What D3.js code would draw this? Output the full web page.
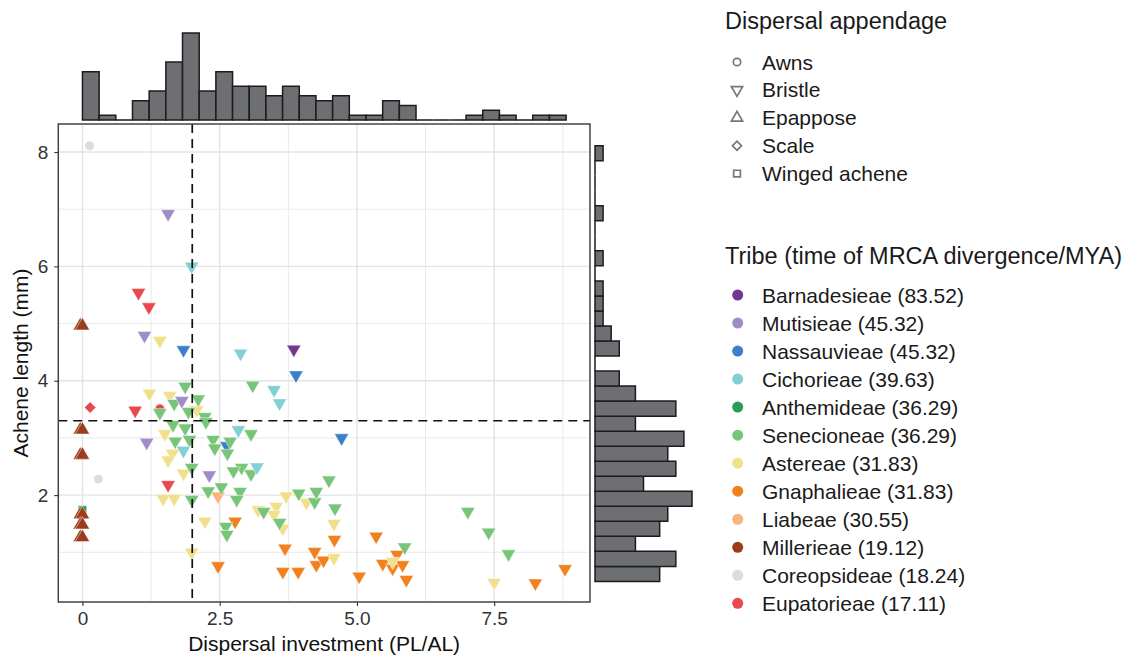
<!DOCTYPE html>
<html>
<head>
<meta charset="utf-8">
<script src="https://cdn.jsdelivr.net/npm/d3@7"></script>
<style>
  body { margin: 0; background: #fff; }
  svg { display: block; font-family: "Liberation Sans", Arial, Helvetica, sans-serif; }
</style>
</head>
<body>
<svg id="chart" width="1128" height="657"></svg>
<script>
// tribes, in legend order
const tribes = ['Barnadesieae', 'Mutisieae', 'Nassauvieae', 'Cichorieae', 'Anthemideae', 'Senecioneae',
  'Astereae', 'Gnaphalieae', 'Liabeae', 'Millerieae', 'Coreopsideae', 'Eupatorieae'];
const tribeAges = ['83.52', '45.32', '45.32', '39.63', '36.29', '36.29', '31.83', '31.83', '30.55', '19.12', '18.24', '17.11'];
const tribeColors = ['#74368f', '#a08dc6', '#3a7fc8', '#82cfd5', '#2d9a5c', '#78c57a',
  '#f0e08c', '#f1801f', '#f8b47a', '#9b3c1c', '#dcdcdf', '#e8484e'];
const appendages = ['Awns', 'Bristle', 'Epappose', 'Scale', 'Winged achene'];

// points per tribe: [dispersal investment, achene length, appendage]
const barnadesieae = [[3.85, 4.55, 'Bristle']];
const mutisieae = [[1.56, 6.92, 'Bristle'], [1.13, 4.79, 'Bristle'], [1.81, 3.65, 'Bristle'],
  [1.17, 2.92, 'Bristle'], [2.31, 2.35, 'Bristle']];
const nassauvieae = [[1.84, 4.54, 'Bristle'], [3.89, 4.10, 'Bristle'], [2.63, 2.86, 'Bristle'], [4.72, 3.00, 'Bristle']];
const cichorieae = [[1.99, 6.00, 'Bristle'], [2.88, 4.48, 'Bristle'], [3.49, 3.84, 'Bristle'], [3.59, 3.61, 'Bristle'],
  [2.84, 3.14, 'Bristle'], [1.84, 2.78, 'Bristle'], [3.18, 2.49, 'Bristle']];
const anthemideae = [[0.0, 1.74, 'Winged achene']];
const senecioneae = [
  [1.87, 3.90, 'Bristle'], [3.10, 3.92, 'Bristle'], [1.67, 3.60, 'Bristle'], [2.11, 3.68, 'Bristle'],
  [1.93, 3.46, 'Bristle'], [1.41, 3.44, 'Bristle'], [2.23, 3.37, 'Bristle'], [2.25, 3.28, 'Bristle'],
  [1.65, 3.23, 'Bristle'], [1.87, 3.17, 'Bristle'], [3.07, 3.07, 'Bristle'], [1.69, 2.94, 'Bristle'],
  [1.95, 2.97, 'Bristle'], [2.38, 2.97, 'Bristle'], [2.41, 2.82, 'Bristle'], [2.69, 2.94, 'Bristle'],
  [2.64, 2.73, 'Bristle'], [1.99, 2.48, 'Bristle'], [2.90, 2.48, 'Bristle'], [2.75, 2.42, 'Bristle'],
  [3.07, 2.37, 'Bristle'], [2.29, 2.07, 'Bristle'], [2.53, 2.14, 'Bristle'], [2.87, 2.06, 'Bristle'],
  [2.81, 1.92, 'Bristle'], [1.99, 1.92, 'Bristle'], [3.94, 2.03, 'Bristle'], [4.23, 1.88, 'Bristle'],
  [4.26, 2.06, 'Bristle'], [4.49, 2.26, 'Bristle'], [4.60, 1.77, 'Bristle'], [3.30, 1.71, 'Bristle'],
  [3.59, 1.52, 'Bristle'], [2.61, 1.45, 'Bristle'], [2.63, 1.31, 'Bristle'], [5.87, 1.09, 'Bristle'],
  [7.02, 1.71, 'Bristle'], [7.40, 1.35, 'Bristle'], [7.76, 0.97, 'Bristle']];
const astereae = [
  [1.41, 4.70, 'Bristle'], [1.22, 3.78, 'Bristle'], [1.59, 3.74, 'Bristle'], [2.08, 3.49, 'Bristle'],
  [1.50, 3.07, 'Bristle'], [1.64, 2.73, 'Bristle'], [1.56, 2.61, 'Bristle'], [1.84, 2.38, 'Bristle'],
  [1.47, 1.94, 'Bristle'], [1.67, 1.94, 'Bristle'], [2.23, 1.54, 'Bristle'], [1.99, 1.00, 'Bristle'],
  [3.71, 1.98, 'Bristle'], [4.08, 1.87, 'Bristle'], [3.53, 1.80, 'Bristle'], [3.20, 1.74, 'Bristle'],
  [3.49, 1.66, 'Bristle'], [3.65, 1.42, 'Bristle'], [4.58, 1.50, 'Bristle'], [4.58, 0.90, 'Bristle'],
  [5.65, 0.84, 'Bristle'], [7.50, 0.47, 'Bristle']];
const gnaphalieae = [
  [2.78, 1.54, 'Bristle'], [2.47, 0.76, 'Bristle'], [3.69, 1.07, 'Bristle'], [4.23, 1.01, 'Bristle'],
  [4.26, 0.78, 'Bristle'], [4.39, 0.86, 'Bristle'], [3.65, 0.66, 'Bristle'], [3.93, 0.66, 'Bristle'],
  [4.59, 1.22, 'Bristle'], [5.04, 0.58, 'Bristle'], [5.35, 1.28, 'Bristle'], [5.47, 0.80, 'Bristle'],
  [5.65, 0.72, 'Bristle'], [5.73, 0.96, 'Bristle'], [5.83, 0.78, 'Bristle'], [5.90, 0.52, 'Bristle'],
  [8.25, 0.46, 'Bristle'], [8.79, 0.71, 'Bristle']];
const liabeae = [[2.47, 1.98, 'Bristle']];
const millerieae = [
  [-0.04, 4.96, 'Epappose'], [0.0, 4.96, 'Epappose'], [-0.04, 3.14, 'Epappose'], [0.0, 3.14, 'Epappose'],
  [-0.04, 2.70, 'Epappose'], [0.0, 2.70, 'Epappose'], [-0.04, 1.66, 'Epappose'], [0.0, 1.66, 'Epappose'],
  [-0.04, 1.48, 'Epappose'], [0.0, 1.48, 'Epappose'], [-0.04, 1.26, 'Epappose'], [0.0, 1.26, 'Epappose']];
const coreopsideae = [[0.13, 8.11, 'Awns'], [0.29, 2.28, 'Awns']];
const eupatorieae = [[0.14, 3.53, 'Scale'], [1.02, 5.54, 'Bristle'], [1.21, 5.29, 'Bristle'],
  [0.96, 3.48, 'Bristle'], [1.41, 3.51, 'Awns'], [1.56, 2.18, 'Bristle']];

// marginal histograms (counts)
const topBinStart = 0, topBinWidth = 0.3038;
const topCounts = [10, 1, 0, 4, 6, 12, 18, 6, 10, 7, 7, 5, 7, 5, 4, 5, 1, 1, 4, 3, 0, 0, 0, 1, 2, 1, 0, 1, 1];
const rightBinStart = 0.49, rightBinWidth = 0.2628;
const rightCounts = [8, 10, 5, 8, 9, 12, 6, 10, 9, 11, 5, 10, 5, 3, 0, 3, 2, 1, 1, 1, 0, 1, 0, 0, 1, 0, 0, 0, 1];

const xTicks = [0, 2.5, 5, 7.5];
const xMinor = [1.25, 3.75, 6.25, 8.75];
const yTicks = [2, 4, 6, 8];
const yMinor = [1, 3, 5, 7];
const xCut = 2.0, yCut = 3.3;

// draw order (bottom to top)
const drawOrder = [
  ['Eupatorieae', eupatorieae], ['Coreopsideae', coreopsideae], ['Anthemideae', anthemideae],
  ['Millerieae', millerieae], ['Nassauvieae', nassauvieae], ['Liabeae', liabeae],
  ['Gnaphalieae', gnaphalieae], ['Astereae', astereae], ['Senecioneae', senecioneae],
  ['Cichorieae', cichorieae], ['Mutisieae', mutisieae], ['Barnadesieae', barnadesieae]
];

const svg = d3.select('#chart');
const P = { left: 58.3, right: 590, top: 124, bottom: 602 };

const x = d3.scaleLinear().domain([-0.44, 9.245]).range([P.left, P.right]);
const y = d3.scaleLinear().domain([0.13, 8.49]).range([P.bottom, P.top]);
const topY = d3.scaleLinear().domain([0, 18]).range([120, 33]);
const rightX = d3.scaleLinear().domain([0, 12]).range([595, 692]);
const color = d3.scaleOrdinal().domain(tribes).range(tribeColors);

// symbol for each appendage
function shapePath(app, big) {
  const k = big ? 1 : 0.62;
  if (app === 'Awns') return { d: d3.symbol(d3.symbolCircle, 70 * k)(), rot: 0 };
  if (app === 'Bristle') return { d: d3.symbol(d3.symbolTriangle, 88 * k)(), rot: 180 };
  if (app === 'Epappose') return { d: d3.symbol(d3.symbolTriangle, 88 * k)(), rot: 0 };
  if (app === 'Scale') return { d: d3.symbol(d3.symbolSquare, 66 * k)(), rot: 45 };
  return { d: d3.symbol(d3.symbolSquare, 72 * k)(), rot: 0 };
}

// grid
const grid = svg.append('g');
grid.selectAll('.vmin').data(xMinor).join('line')
  .attr('x1', d => x(d)).attr('x2', d => x(d)).attr('y1', P.top).attr('y2', P.bottom)
  .attr('stroke', '#e9e9e9').attr('stroke-width', 1);
grid.selectAll('.hmin').data(yMinor).join('line')
  .attr('y1', d => y(d)).attr('y2', d => y(d)).attr('x1', P.left).attr('x2', P.right)
  .attr('stroke', '#e9e9e9').attr('stroke-width', 1);
grid.selectAll('.vmaj').data(xTicks).join('line')
  .attr('x1', d => x(d)).attr('x2', d => x(d)).attr('y1', P.top).attr('y2', P.bottom)
  .attr('stroke', '#e3e3e3').attr('stroke-width', 1.4);
grid.selectAll('.hmaj').data(yTicks).join('line')
  .attr('y1', d => y(d)).attr('y2', d => y(d)).attr('x1', P.left).attr('x2', P.right)
  .attr('stroke', '#e3e3e3').attr('stroke-width', 1.4);

// points
const pts = [];
drawOrder.forEach(([tribe, rows]) => rows.forEach(r => pts.push({ tribe, x: r[0], y: r[1], app: r[2] })));

svg.append('g').selectAll('path').data(pts).join('path')
  .attr('d', d => shapePath(d.app, true).d)
  .attr('transform', d => `translate(${x(d.x)},${y(d.y)}) rotate(${shapePath(d.app, true).rot})`)
  .attr('fill', d => color(d.tribe))
  .attr('stroke', '#fff').attr('stroke-width', 0.6).attr('stroke-opacity', 0.8);

// dashed reference lines
svg.append('line').attr('x1', x(xCut)).attr('x2', x(xCut)).attr('y1', P.top).attr('y2', P.bottom)
  .attr('stroke', '#111').attr('stroke-width', 1.7).attr('stroke-dasharray', '9,6');
svg.append('line').attr('x1', P.left).attr('x2', P.right).attr('y1', y(yCut)).attr('y2', y(yCut))
  .attr('stroke', '#111').attr('stroke-width', 1.7).attr('stroke-dasharray', '9,6');

// panel border
svg.append('rect').attr('x', P.left).attr('y', P.top)
  .attr('width', P.right - P.left).attr('height', P.bottom - P.top)
  .attr('fill', 'none').attr('stroke', '#444').attr('stroke-width', 1.5);

// axes
const xAxis = svg.append('g').attr('transform', `translate(0,${P.bottom})`)
  .call(d3.axisBottom(x).tickValues(xTicks).tickSize(4).tickPadding(6)
    .tickFormat(d => d === 0 ? '0' : d3.format('.1f')(d)));
const yAxis = svg.append('g').attr('transform', `translate(${P.left},0)`)
  .call(d3.axisLeft(y).tickValues(yTicks).tickSize(4).tickPadding(6).tickFormat(d3.format('d')));
[xAxis, yAxis].forEach(a => {
  a.select('.domain').remove();
  a.selectAll('line').attr('stroke', '#333').attr('stroke-width', 1.1);
  a.selectAll('text').attr('fill', '#333').style('font-size', '19px')
    .style('font-family', '"Liberation Sans", Arial, sans-serif');
});

svg.append('text').attr('x', (P.left + P.right) / 2).attr('y', 651).attr('text-anchor', 'middle')
  .style('font-size', '21px').attr('fill', '#111').text('Dispersal investment (PL/AL)');
svg.append('text').attr('transform', `translate(28,${(P.top + P.bottom) / 2}) rotate(-90)`)
  .attr('text-anchor', 'middle').style('font-size', '21px').attr('fill', '#111').text('Achene length (mm)');

// top marginal histogram
svg.append('g').selectAll('path').data(topCounts).join('path')
  .attr('d', (c, i) => {
    const x0 = x(topBinStart + i * topBinWidth), x1 = x(topBinStart + (i + 1) * topBinWidth);
    return `M${x0},${topY(0)}V${topY(c)}H${x1}V${topY(0)}Z`;
  })
  .attr('fill', '#6e6f72').attr('stroke', '#1c1c1c').attr('stroke-width', 1.5);

// right marginal histogram
svg.append('g').selectAll('path').data(rightCounts).join('path')
  .attr('d', (c, i) => {
    const y0 = y(rightBinStart + i * rightBinWidth), y1 = y(rightBinStart + (i + 1) * rightBinWidth);
    return `M${rightX(0)},${y0}H${rightX(c)}V${y1}H${rightX(0)}Z`;
  })
  .attr('fill', '#6e6f72').attr('stroke', '#1c1c1c').attr('stroke-width', 1.5);

// legends
const lx = 725;
const leg1 = svg.append('g');
leg1.append('text').attr('x', lx).attr('y', 29).style('font-size', '23.5px').attr('fill', '#1a1a1a')
  .text('Dispersal appendage');
appendages.forEach((a, i) => {
  const cy = 62 + i * 27.9;
  const s = shapePath(a, false);
  leg1.append('path').attr('d', s.d)
    .attr('transform', `translate(737,${cy}) rotate(${s.rot})`)
    .attr('fill', 'none').attr('stroke', '#777').attr('stroke-width', 1.7);
  leg1.append('text').attr('x', 762).attr('y', cy + 7.5).style('font-size', '21px').attr('fill', '#1a1a1a').text(a);
});

const leg2 = svg.append('g');
leg2.append('text').attr('x', lx).attr('y', 264).style('font-size', '23.5px').attr('fill', '#1a1a1a')
  .text('Tribe (time of MRCA divergence/MYA)');
tribes.forEach((t, i) => {
  const cy = 295 + i * 28.03;
  leg2.append('circle').attr('cx', 737.7).attr('cy', cy).attr('r', 5.5).attr('fill', tribeColors[i]);
  leg2.append('text').attr('x', 762).attr('y', cy + 7.5).style('font-size', '21px').attr('fill', '#1a1a1a')
    .text(`${t} (${tribeAges[i]})`);
});
</script>
</body>
</html>
